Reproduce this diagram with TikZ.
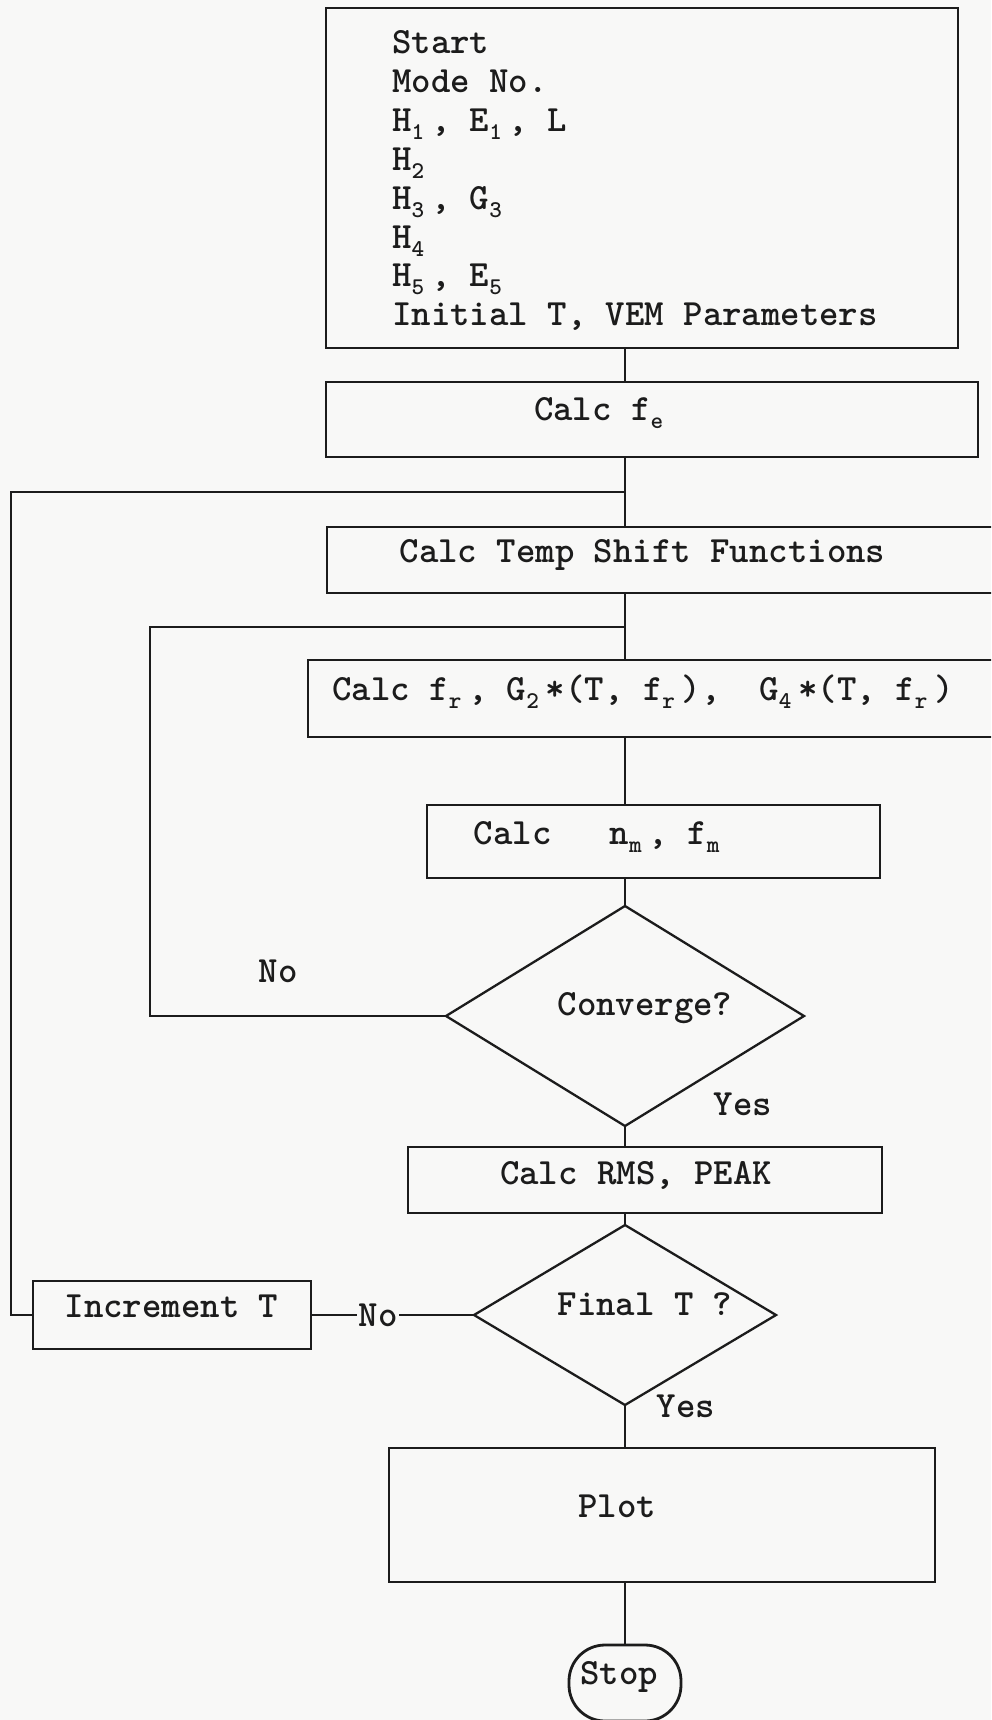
\documentclass[tikz,border=0pt]{standalone}
\usepackage{fontspec}
\newfontfamily\typewr{lmmonolt10-bold}[Extension=.otf]
\usetikzlibrary{shapes.geometric}

\definecolor{inkc}{RGB}{28,28,28}
\definecolor{paper}{RGB}{248,248,247}

% typewriter subscript: takes one full character cell, set small and dropped
\newcommand\lowr[1]{\makebox[0.525em][l]{\raisebox{-8pt}{\fontsize{24}{24}\selectfont #1}}}

\tikzset{
  procbox/.style={draw=inkc, line width=2.8pt, rectangle, inner sep=0pt, outer sep=0pt},
  decision/.style={draw=inkc, line width=2.3pt, diamond, inner sep=0pt, outer sep=0pt},
  wire/.style={draw=inkc, line width=2.1pt},
  txt/.style={font=\typewr\fontsize{37}{38.8}\selectfont, text=inkc, inner sep=0pt, anchor=mid},
}

\begin{document}
\begin{tikzpicture}[x=1pt,y=-1pt]
\useasboundingbox (0,0) rectangle (991,1720);
\fill[paper] (0,0) rectangle (991,1720);
\clip (0,0) rectangle (991,1720);
\coordinate (col) at (625,0);

% input block
\node[procbox, minimum width=632pt, minimum height=340pt] (spec) at (642,178) {};
\foreach \t [count=\i] in {{Start},{Mode No.},{H\lowr{1}, E\lowr{1}, L},{H\lowr{2}},
    {H\lowr{3}, G\lowr{3}},{H\lowr{4}},{H\lowr{5}, E\lowr{5}},{Initial T, VEM Parameters}}
  \node[txt, anchor=base west] (spec\i) at (392,15.2+38.8*\i) {\t};

% processing chain
\node[procbox, minimum width=652pt, minimum height=75pt] (fe) at (652,419.5) {};
\node[txt] (fe-t) at (602,418) {Calc f\lowr{e}};

\node[procbox, minimum width=673pt, minimum height=66pt] (temp) at (663.5,560) {};
\node[txt] (temp-t) at (642.5,560) {Calc Temp Shift Functions};

\node[procbox, minimum width=692pt, minimum height=77pt] (fr) at (654,698.5) {};
\node[txt] (fr-t) at (643,698) {Calc f\lowr{r}, G\lowr{2}*(T, f\lowr{r}),~~G\lowr{4}*(T, f\lowr{r})};

\node[procbox, minimum width=453pt, minimum height=73pt] (nm) at (653.5,841.5) {};
\node[txt] (nm-t) at (600,842) {Calc~~~n\lowr{m}, f\lowr{m}};

\node[decision, minimum width=358pt, minimum height=220pt] (conv) at (625,1016) {};
\node[txt] (conv-t) at (645,1013) {Converge?};
\node[txt] (no1) at (278,980) {No};
\node[txt] (yes1) at (743,1113) {Yes};

\node[procbox, minimum width=474pt, minimum height=66pt] (rms) at (645,1180) {};
\node[txt] (rms-t) at (636,1182) {Calc RMS, PEAK};

\node[decision, minimum width=302pt, minimum height=180pt] (fin) at (625,1315) {};
\node[txt] (fin-t) at (645,1313) {Final T ?};
\node[txt] (yes2) at (686,1415) {Yes};

\node[procbox, minimum width=278pt, minimum height=68pt] (inc) at (172,1315) {};
\node[txt] (inc-t) at (171.5,1315) {Increment T};

\node[procbox, minimum width=546pt, minimum height=134pt] (plot) at (662,1515) {};
\node[txt] (plot-t) at (617,1515) {Plot};

\node[procbox, rounded corners=36pt, minimum width=112pt, minimum height=76pt] (stop) at (625,1683) {};
\node[txt] (stop-t) at (619,1682) {Stop};

% main flow
\draw[wire] (spec.south -| col) -- (fe.north -| col);
\draw[wire] (fe.south -| col) -- (temp.north -| col);
\draw[wire] (temp.south -| col) -- (fr.north -| col);
\draw[wire] (fr.south -| col) -- (nm.north -| col);
\draw[wire] (nm.south -| col) -- (conv.north);
\draw[wire] (conv.south) -- (rms.north -| col);
\draw[wire] (rms.south -| col) -- (fin.north);
\draw[wire] (fin.south) -- (plot.north -| col);
\draw[wire] (plot.south -| col) -- (stop.north);

% iteration loops
\coordinate (innerL) at (150,627);
\draw[wire] (conv.west) -| (innerL) -- (innerL -| col);
\coordinate (outerL) at (11,492);
\draw[wire] (inc.west) -| (outerL) -- (outerL -| col);
\draw[wire] (fin.west) -- (inc.east);
\node[txt, anchor=center, fill=paper, inner sep=2pt] (no2) at (378,1315) {No};
\end{tikzpicture}
\end{document}
